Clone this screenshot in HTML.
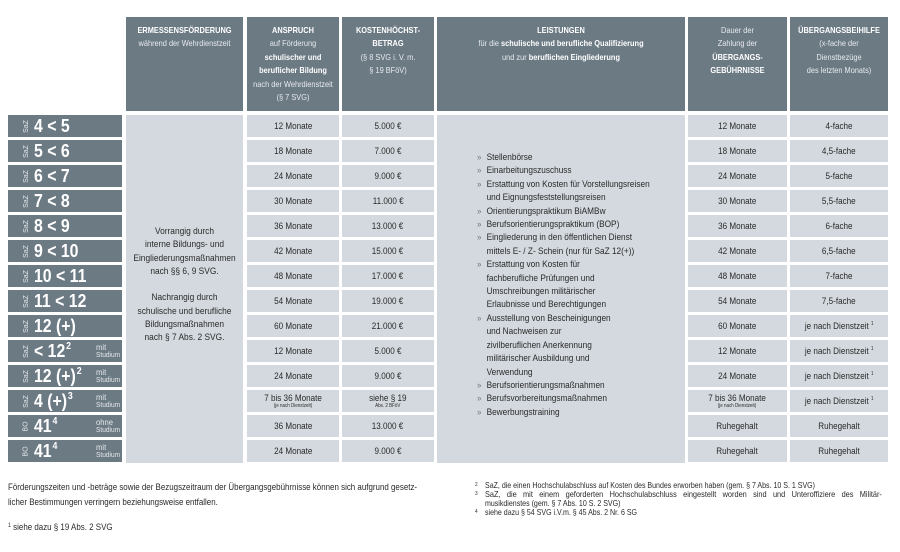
<!DOCTYPE html>
<html><head><meta charset="utf-8">
<style>
*{margin:0;padding:0;box-sizing:border-box}
body{width:900px;height:552px;background:#fff;position:relative;overflow:hidden;font-family:"Liberation Sans",Arial,sans-serif;color:#2a2a2a}
.h{position:absolute;top:17px;height:94px;background:#6c7a84;color:#e6eaee;font-size:8.5px;line-height:13.4px;text-align:center;padding-top:7px;overflow:hidden}
.h .i{margin:0 -40px;transform:scaleX(.87);white-space:nowrap}
.h b{color:#fff}
.c{position:absolute;height:22px;background:#d3d9de;display:flex;align-items:center;justify-content:center;font-size:9px;color:#2a2a2a}
.c span{display:inline-block;transform:scaleX(.9);white-space:nowrap;text-align:center}
.c .two{line-height:8.6px;margin-top:1px}
.c .two small{display:block;font-size:5px;line-height:6px}
.a{left:247px;width:92px}
.k{left:342px;width:92px}
.d{left:688px;width:99px}
.u{left:790px;width:98px}
.l{position:absolute;left:8px;width:114px;height:22px;background:#6c7a84;color:#fff}
.l .v{position:absolute;left:14px;top:0;height:22px;width:8px;display:flex;align-items:center;justify-content:center}
.l .v i{font-style:normal;font-size:7px;color:#e3e7ea;transform:rotate(-90deg);display:inline-block;white-space:nowrap}
.l .m{position:absolute;left:26px;top:0;height:22px;line-height:22px;font-size:18px;font-weight:bold;transform:scaleX(.88);transform-origin:left center;white-space:nowrap}
.l .m sup{font-size:10px;vertical-align:top;line-height:14px;margin-left:1px}
.l .s{position:absolute;left:88px;top:3px;color:#e3e7ea;line-height:8.3px;transform:scaleX(.9);transform-origin:left center}
.l .s .x{font-size:8.5px;display:block}
.l .s .y{font-size:7.3px;display:block}
.big{position:absolute;background:#d3d9de;top:115px;height:348px}
.et{position:absolute;left:0;right:0;top:110px;text-align:center;font-size:9.5px;line-height:13.3px;color:#2a2a2a}
.et div{margin:0 -30px;transform:scaleX(.88);white-space:nowrap}
.lt{position:absolute;left:40px;top:36px;font-size:9.5px;line-height:13.4px;color:#2a2a2a;transform:scaleX(.87);transform-origin:left top;white-space:nowrap}
.lt p{position:relative;padding-left:11px}
.lt p.b:before{content:"\00BB";position:absolute;left:0;top:0;color:#777;font-size:9px}
.f{position:absolute;font-size:9px;color:#2a2a2a;white-space:nowrap;transform-origin:left center;transform:scaleX(.883)}
.f2{position:absolute;font-size:8.2px;line-height:8.9px;color:#2a2a2a;white-space:nowrap;transform-origin:left top;transform:scaleX(.86)}
.f2 sup{font-size:5.5px;vertical-align:top;line-height:7px}
.f sup{font-size:6px;vertical-align:top;line-height:8px}
</style></head><body>

<!-- headers -->
<div class="h" style="left:126px;width:117px"><div class="i"><b>ERMESSENSFÖRDERUNG</b><br>während der Wehrdienstzeit</div></div>
<div class="h" style="left:247px;width:92px"><div class="i"><b>ANSPRUCH</b><br>auf Förderung<br><b>schulischer und</b><br><b>beruflicher Bildung</b><br>nach der Wehrdienstzeit<br>(§ 7 SVG)</div></div>
<div class="h" style="left:342px;width:92px"><div class="i"><b>KOSTENHÖCHST-</b><br><b>BETRAG</b><br>(§ 8 SVG i. V. m.<br>§ 19 BFöV)</div></div>
<div class="h" style="left:437px;width:248px"><div class="i"><b>LEISTUNGEN</b><br>für die <b>schulische und berufliche Qualifizierung</b><br>und zur <b>beruflichen Eingliederung</b></div></div>
<div class="h" style="left:688px;width:99px"><div class="i">Dauer der<br>Zahlung der<br><b>ÜBERGANGS-</b><br><b>GEBÜHRNISSE</b></div></div>
<div class="h" style="left:790px;width:98px"><div class="i"><b>ÜBERGANGSBEIHILFE</b><br>(x-fache der<br>Dienstbezüge<br>des letzten Monats)</div></div>

<!-- merged columns -->
<div class="big" style="left:126px;width:117px">
 <div class="et">
  <div>Vorrangig durch</div><div>interne Bildungs- und</div><div>Eingliederungsmaßnahmen</div><div>nach §§ 6, 9 SVG.</div><div>&nbsp;</div>
  <div>Nachrangig durch</div><div>schulische und berufliche</div><div>Bildungsmaßnahmen</div><div>nach § 7 Abs. 2 SVG.</div>
 </div>
</div>
<div class="big" style="left:437px;width:248px">
 <div class="lt">
  <p class="b">Stellenbörse</p>
  <p class="b">Einarbeitungszuschuss</p>
  <p class="b">Erstattung von Kosten für Vorstellungsreisen</p>
  <p>und Eignungsfeststellungsreisen</p>
  <p class="b">Orientierungspraktikum BiAMBw</p>
  <p class="b">Berufsorientierungspraktikum (BOP)</p>
  <p class="b">Eingliederung in den öffentlichen Dienst</p>
  <p>mittels E- / Z- Schein (nur für SaZ 12(+))</p>
  <p class="b">Erstattung von Kosten für</p>
  <p>fachberufliche Prüfungen und</p>
  <p>Umschreibungen militärischer</p>
  <p>Erlaubnisse und Berechtigungen</p>
  <p class="b">Ausstellung von Bescheinigungen</p>
  <p>und Nachweisen zur</p>
  <p>zivilberuflichen Anerkennung</p>
  <p>militärischer Ausbildung und</p>
  <p>Verwendung</p>
  <p class="b">Berufsorientierungsmaßnahmen</p>
  <p class="b">Berufsvorbereitungsmaßnahmen</p>
  <p class="b">Bewerbungstraining</p>
 </div>
</div>

<!-- row labels -->
<div class="l" style="top:115px"><div class="v"><i>SaZ</i></div><div class="m">4 &lt; 5</div></div>
<div class="l" style="top:140px"><div class="v"><i>SaZ</i></div><div class="m">5 &lt; 6</div></div>
<div class="l" style="top:165px"><div class="v"><i>SaZ</i></div><div class="m">6 &lt; 7</div></div>
<div class="l" style="top:190px"><div class="v"><i>SaZ</i></div><div class="m">7 &lt; 8</div></div>
<div class="l" style="top:215px"><div class="v"><i>SaZ</i></div><div class="m">8 &lt; 9</div></div>
<div class="l" style="top:240px"><div class="v"><i>SaZ</i></div><div class="m">9 &lt; 10</div></div>
<div class="l" style="top:265px"><div class="v"><i>SaZ</i></div><div class="m">10 &lt; 11</div></div>
<div class="l" style="top:290px"><div class="v"><i>SaZ</i></div><div class="m">11 &lt; 12</div></div>
<div class="l" style="top:315px"><div class="v"><i>SaZ</i></div><div class="m">12 (+)</div></div>
<div class="l" style="top:340px"><div class="v"><i>SaZ</i></div><div class="m">&lt; 12<sup>2</sup></div><div class="s"><span class="x">mit</span><span class="y">Studium</span></div></div>
<div class="l" style="top:365px"><div class="v"><i>SaZ</i></div><div class="m">12 (+)<sup>2</sup></div><div class="s"><span class="x">mit</span><span class="y">Studium</span></div></div>
<div class="l" style="top:390px"><div class="v"><i>SaZ</i></div><div class="m">4 (+)<sup>3</sup></div><div class="s"><span class="x">mit</span><span class="y">Studium</span></div></div>
<div class="l" style="top:415px"><div class="v"><i>BO</i></div><div class="m">41<sup>4</sup></div><div class="s"><span class="x">ohne</span><span class="y">Studium</span></div></div>
<div class="l" style="top:440px"><div class="v"><i>BO</i></div><div class="m">41<sup>4</sup></div><div class="s"><span class="x">mit</span><span class="y">Studium</span></div></div>

<!-- Anspruch -->
<div class="c a" style="top:115px"><span>12 Monate</span></div>
<div class="c a" style="top:140px"><span>18 Monate</span></div>
<div class="c a" style="top:165px"><span>24 Monate</span></div>
<div class="c a" style="top:190px"><span>30 Monate</span></div>
<div class="c a" style="top:215px"><span>36 Monate</span></div>
<div class="c a" style="top:240px"><span>42 Monate</span></div>
<div class="c a" style="top:265px"><span>48 Monate</span></div>
<div class="c a" style="top:290px"><span>54 Monate</span></div>
<div class="c a" style="top:315px"><span>60 Monate</span></div>
<div class="c a" style="top:340px"><span>12 Monate</span></div>
<div class="c a" style="top:365px"><span>24 Monate</span></div>
<div class="c a" style="top:390px"><span class="two">7 bis 36 Monate<small>(je nach Dienstzeit)</small></span></div>
<div class="c a" style="top:415px"><span>36 Monate</span></div>
<div class="c a" style="top:440px"><span>24 Monate</span></div>

<!-- Kosten -->
<div class="c k" style="top:115px"><span>5.000 €</span></div>
<div class="c k" style="top:140px"><span>7.000 €</span></div>
<div class="c k" style="top:165px"><span>9.000 €</span></div>
<div class="c k" style="top:190px"><span>11.000 €</span></div>
<div class="c k" style="top:215px"><span>13.000 €</span></div>
<div class="c k" style="top:240px"><span>15.000 €</span></div>
<div class="c k" style="top:265px"><span>17.000 €</span></div>
<div class="c k" style="top:290px"><span>19.000 €</span></div>
<div class="c k" style="top:315px"><span>21.000 €</span></div>
<div class="c k" style="top:340px"><span>5.000 €</span></div>
<div class="c k" style="top:365px"><span>9.000 €</span></div>
<div class="c k" style="top:390px"><span class="two">siehe § 19<small>Abs. 2 BFöV</small></span></div>
<div class="c k" style="top:415px"><span>13.000 €</span></div>
<div class="c k" style="top:440px"><span>9.000 €</span></div>

<!-- Dauer -->
<div class="c d" style="top:115px"><span>12 Monate</span></div>
<div class="c d" style="top:140px"><span>18 Monate</span></div>
<div class="c d" style="top:165px"><span>24 Monate</span></div>
<div class="c d" style="top:190px"><span>30 Monate</span></div>
<div class="c d" style="top:215px"><span>36 Monate</span></div>
<div class="c d" style="top:240px"><span>42 Monate</span></div>
<div class="c d" style="top:265px"><span>48 Monate</span></div>
<div class="c d" style="top:290px"><span>54 Monate</span></div>
<div class="c d" style="top:315px"><span>60 Monate</span></div>
<div class="c d" style="top:340px"><span>12 Monate</span></div>
<div class="c d" style="top:365px"><span>24 Monate</span></div>
<div class="c d" style="top:390px"><span class="two">7 bis 36 Monate<small>(je nach Dienstzeit)</small></span></div>
<div class="c d" style="top:415px"><span>Ruhegehalt</span></div>
<div class="c d" style="top:440px"><span>Ruhegehalt</span></div>

<!-- Uebergangsbeihilfe -->
<div class="c u" style="top:115px"><span>4-fache</span></div>
<div class="c u" style="top:140px"><span>4,5-fache</span></div>
<div class="c u" style="top:165px"><span>5-fache</span></div>
<div class="c u" style="top:190px"><span>5,5-fache</span></div>
<div class="c u" style="top:215px"><span>6-fache</span></div>
<div class="c u" style="top:240px"><span>6,5-fache</span></div>
<div class="c u" style="top:265px"><span>7-fache</span></div>
<div class="c u" style="top:290px"><span>7,5-fache</span></div>
<div class="c u" style="top:315px"><span>je nach Dienstzeit <sup style="font-size:5px">1</sup></span></div>
<div class="c u" style="top:340px"><span>je nach Dienstzeit <sup style="font-size:5px">1</sup></span></div>
<div class="c u" style="top:365px"><span>je nach Dienstzeit <sup style="font-size:5px">1</sup></span></div>
<div class="c u" style="top:390px"><span>je nach Dienstzeit <sup style="font-size:5px">1</sup></span></div>
<div class="c u" style="top:415px"><span>Ruhegehalt</span></div>
<div class="c u" style="top:440px"><span>Ruhegehalt</span></div>

<!-- footer left -->
<div class="f" style="left:8px;top:482px">Förderungszeiten und -beträge sowie der Bezugszeitraum der Übergangsgebührnisse können sich aufgrund gesetz-</div>
<div class="f" style="left:8px;top:497px">licher Bestimmungen verringern beziehungsweise entfallen.</div>
<div class="f" style="left:8px;top:522px"><sup>1</sup> siehe dazu § 19 Abs. 2 SVG</div>

<!-- footer right -->
<div class="f2" style="left:475px;top:482px"><sup>2</sup></div>
<div class="f2" style="left:485px;top:482px">SaZ, die einen Hochschulabschluss auf Kosten des Bundes erworben haben (gem. § 7 Abs. 10 S. 1 SVG)</div>
<div class="f2" style="left:475px;top:491px"><sup>3</sup></div>
<div class="f2" style="left:485px;top:491px;width:441px;text-align:justify;text-align-last:justify;transform:scaleX(.9)">SaZ, die mit einem geforderten Hochschulabschluss eingestellt worden sind und Unteroffiziere des Militär-</div>
<div class="f2" style="left:485px;top:500px">musikdienstes (gem. § 7 Abs. 10 S. 2 SVG)</div>
<div class="f2" style="left:475px;top:509px"><sup>4</sup></div>
<div class="f2" style="left:485px;top:509px">siehe dazu § 54 SVG i.V.m. § 45 Abs. 2 Nr. 6 SG</div>

</body></html>
